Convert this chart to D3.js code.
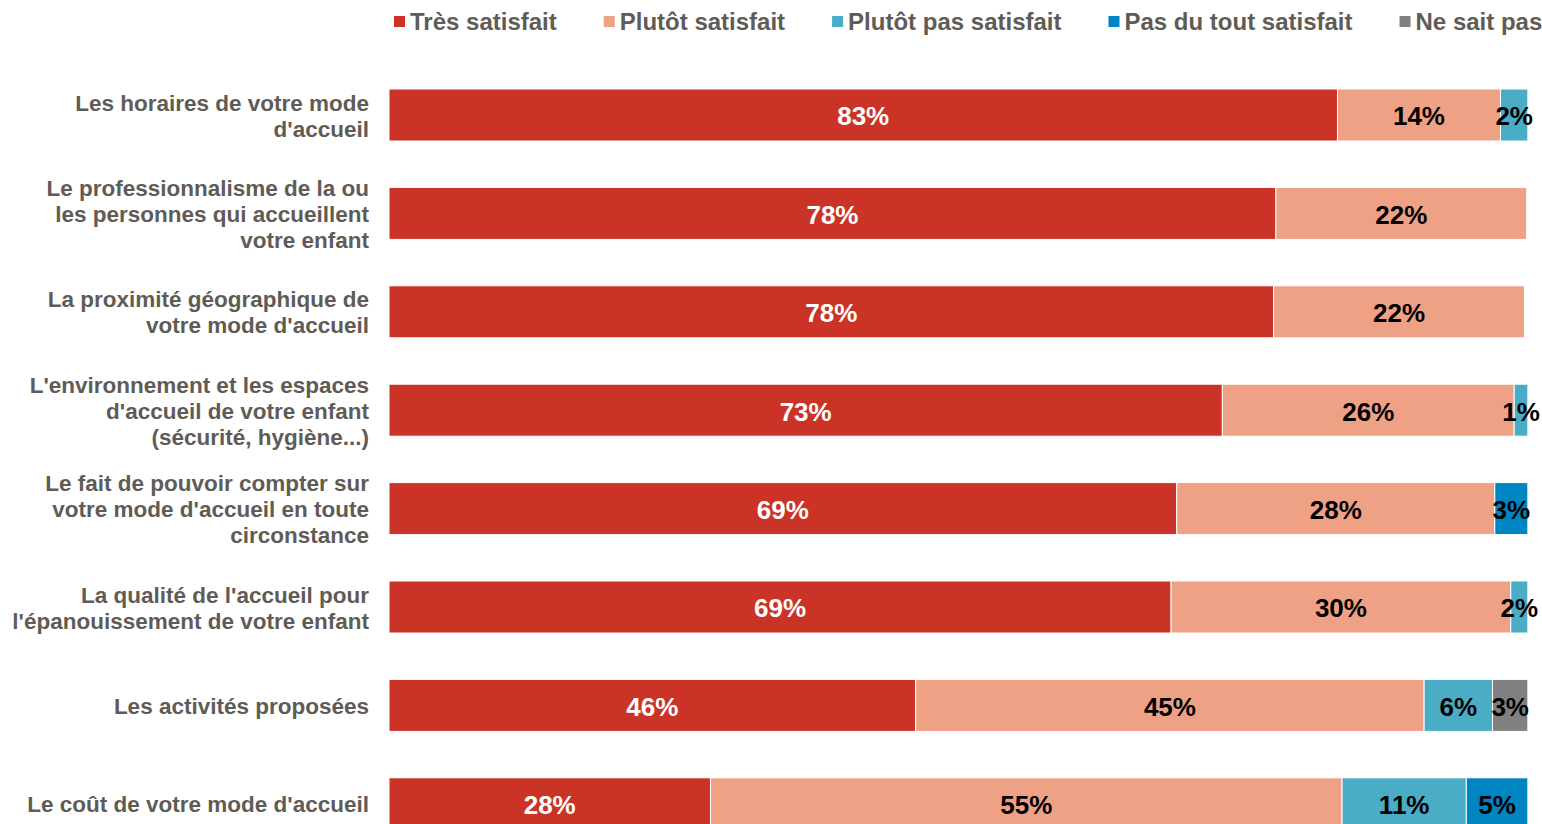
<!DOCTYPE html>
<html><head><meta charset="utf-8">
<script src="https://cdn.jsdelivr.net/npm/d3@7"></script>
<style>
html,body{margin:0;padding:0;background:#fff;}
svg{display:block;font-family:"Liberation Sans",Arial,sans-serif;}
</style></head>
<body>
<svg id="chart" width="1542" height="824"></svg>
<script>
const categories = [
  ["Les horaires de votre mode", "d'accueil"],
  ["Le professionnalisme de la ou", "les personnes qui accueillent", "votre enfant"],
  ["La proximité géographique de", "votre mode d'accueil"],
  ["L'environnement et les espaces", "d'accueil de votre enfant", "(sécurité, hygiène...)"],
  ["Le fait de pouvoir compter sur", "votre mode d'accueil en toute", "circonstance"],
  ["La qualité de l'accueil pour", "l'épanouissement de votre enfant"],
  ["Les activités proposées"],
  ["Le coût de votre mode d'accueil"]
];
const seriesNames = ["Très satisfait", "Plutôt satisfait", "Plutôt pas satisfait", "Pas du tout satisfait", "Ne sait pas"];
const tresSatisfait     = [83.2, 77.8, 77.6, 73.1, 69.1, 68.6, 46.2, 28.2];
const plutotSatisfait   = [14.3, 22.0, 22.0, 25.6, 27.9, 29.8, 44.6, 55.4];
const plutotPasSatisf   = [2.4, 0, 0, 1.2, 0, 1.5, 6.0, 10.9];
const pasDuToutSatisf   = [0, 0, 0, 0, 2.9, 0, 0, 5.4];
const neSaitPas         = [0, 0, 0, 0, 0, 0, 3.1, 0];
const colors = ["#CB3327", "#EEA185", "#4BACC6", "#0085C3", "#808080"];
const labelColors = ["#FFFFFF", "#000000", "#000000", "#000000", "#000000"];

const seriesValues = [tresSatisfait, plutotSatisfait, plutotPasSatisf, pasDuToutSatisf, neSaitPas];
const keys = categories.map((c, i) => i);
const table = keys.map(i => {
  const o = {idx: i};
  seriesNames.forEach((s, j) => o[s] = seriesValues[j][i]);
  return o;
});
const stacked = d3.stack().keys(seriesNames)(table);

const svg = d3.select("#chart");
const x = d3.scaleLinear().domain([0, 100]).range([389, 1529]);
const y = d3.scaleBand().domain(keys).range([89, 829.8]).paddingInner(0.4715).paddingOuter(0);

// bars
const layers = svg.append("g").selectAll("g").data(stacked).join("g")
  .attr("fill", (d, i) => colors[i]);
layers.selectAll("rect").data(d => d.filter(p => p[1] - p[0] > 0)).join("rect")
  .attr("x", d => x(d[0]))
  .attr("y", d => y(d.data.idx))
  .attr("width", d => x(d[1]) - x(d[0]))
  .attr("height", y.bandwidth())
  .attr("stroke", "#fff").attr("stroke-width", 1);

// value labels
stacked.forEach((layer, si) => {
  svg.append("g").selectAll("text").data(layer.filter(p => p[1] - p[0] > 0)).join("text")
    .attr("x", d => (x(d[0]) + x(d[1])) / 2)
    .attr("y", d => y(d.data.idx) + y.bandwidth() / 2 + 1)
    .attr("dy", "0.36em")
    .attr("text-anchor", "middle")
    .attr("font-size", 26).attr("font-weight", "bold")
    .attr("fill", labelColors[si])
    .text(d => Math.round(d[1] - d[0]) + "%");
});

// category labels
const lineH = 26;
const catG = svg.append("g");
categories.forEach((lines, i) => {
  const cy = y(i) + y.bandwidth() / 2;
  const t = catG.append("text")
    .attr("text-anchor", "end")
    .attr("font-size", 22.5).attr("font-weight", "bold")
    .attr("fill", "#5F5B56");
  lines.forEach((ln, k) => {
    t.append("tspan").attr("x", 369)
      .attr("y", cy + (k - (lines.length - 1) / 2) * lineH)
      .attr("dy", "0.38em").text(ln);
  });
});

// legend
const leg = svg.append("g");
let lx = 394;
seriesNames.forEach((s, i) => {
  leg.append("rect").attr("x", lx).attr("y", 16).attr("width", 11).attr("height", 11).attr("fill", colors[i]);
  const t = leg.append("text").attr("x", lx + 16).attr("y", 30)
    .attr("font-size", 24).attr("font-weight", "bold").attr("fill", "#5F5B56").text(s);
  lx += 16 + t.node().getComputedTextLength() + 47;
});
</script>
</body></html>
